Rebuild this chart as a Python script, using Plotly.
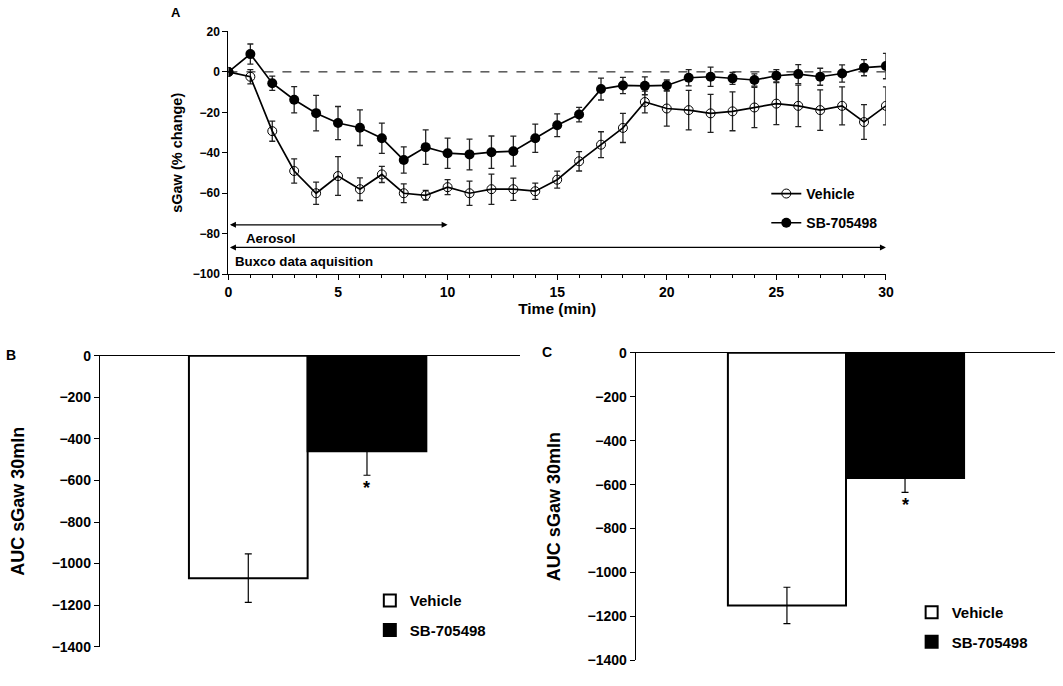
import plotly.graph_objects as go

# ---------------- Panel A data ----------------
time_min = list(range(0, 31))
vehicle_mean = [0, -2.4, -29.3, -49, -60, -51.5, -58, -50.7, -60, -61, -57,
                -60, -58, -58, -59, -53.3, -44.2, -36, -27.7, -14.9, -18.1,
                -18.9, -20.5, -19.5, -17.6, -15.7, -16.8, -18.9, -16.8, -24.8, -16.8]
vehicle_err = [0, 3.5, 5, 6, 5.5, 9.6, 5.6, 4, 4.6, 2.4, 3.7,
               6, 7.5, 5.5, 4, 4.2, 4.8, 6.4, 7.2, 5.4, 8.7,
               9.8, 9.4, 9.6, 10, 10.4, 10.3, 10, 9.4, 8.6, 9.4]
sb_mean = [0, 8.8, -5.6, -13.8, -20.4, -25.3, -27.6, -32.8, -43.6, -37.2, -40.2,
           -40.8, -39.7, -39.2, -32.8, -26.4, -21.1, -8.5, -6.7, -6.9, -6.7,
           -2.9, -2.4, -3.2, -4.0, -1.9, -1.1, -2.4, -0.8, 2.1, 2.9]
sb_err = [0, 5, 3.5, 6.5, 8.8, 8.2, 8.8, 7.5, 6.5, 8.5, 7.5,
          7.6, 8, 7.4, 7, 5.6, 3.6, 5.4, 4, 4.4, 2.7,
          4, 4.8, 3, 3, 3, 4.7, 4.2, 4.3, 4, 6.3]

# ---------------- Panel B / C data ----------------
groups = ["Vehicle", "SB-705498"]
b_auc = [-1070, -460]
b_err = [117, 115]
c_auc = [-1150, -570]
c_err = [83, 65]

font_family = "Liberation Sans, Arial, sans-serif"
def bf(size):
    return dict(family=font_family, size=size, color="black", weight="bold")

fig = go.Figure()

# Panel A traces
fig.add_trace(go.Scatter(
    x=time_min, y=vehicle_mean, name="Vehicle", mode="lines+markers",
    line=dict(color="black", width=1.7),
    marker=dict(symbol="circle-open", size=9, color="black", line=dict(width=1)),
    error_y=dict(type="data", array=vehicle_err, color="#222", thickness=1.3, width=3),
    xaxis="x", yaxis="y", legend="legend", legendgroup="a1"))
fig.add_trace(go.Scatter(
    x=time_min, y=sb_mean, name="SB-705498", mode="lines+markers",
    line=dict(color="black", width=1.7),
    marker=dict(symbol="circle", size=10, color="black"),
    error_y=dict(type="data", array=sb_err, color="#222", thickness=1.3, width=3),
    xaxis="x", yaxis="y", legend="legend", legendgroup="a2"))

# Panel B traces
fig.add_trace(go.Bar(
    x=[0], y=[b_auc[0]], name=groups[0], width=1,
    marker=dict(color="white", line=dict(color="black", width=2)),
    error_y=dict(type="data", array=[b_err[0]], color="black", thickness=1.2, width=3.5),
    xaxis="x2", yaxis="y2", legend="legend2", legendgroup="b1"))
fig.add_trace(go.Bar(
    x=[1], y=[b_auc[1]], name=groups[1], width=1,
    marker=dict(color="black", line=dict(color="black", width=2)),
    error_y=dict(type="data", array=[b_err[1]], color="black", thickness=1.2, width=3.5),
    xaxis="x2", yaxis="y2", legend="legend2", legendgroup="b2"))

# Panel C traces
fig.add_trace(go.Bar(
    x=[0], y=[c_auc[0]], name=groups[0], width=1,
    marker=dict(color="white", line=dict(color="black", width=2)),
    error_y=dict(type="data", array=[c_err[0]], color="black", thickness=1.2, width=3.5),
    xaxis="x3", yaxis="y3", legend="legend3", legendgroup="c1"))
fig.add_trace(go.Bar(
    x=[1], y=[c_auc[1]], name=groups[1], width=1,
    marker=dict(color="black", line=dict(color="black", width=2)),
    error_y=dict(type="data", array=[c_err[1]], color="black", thickness=1.2, width=3.5),
    xaxis="x3", yaxis="y3", legend="legend3", legendgroup="c2"))

W, H = 1063, 686
def px(xp): return xp / W
def py(yp): return 1 - yp / H

fig.update_layout(
    width=W, height=H, margin=dict(l=0, r=0, t=0, b=0),
    paper_bgcolor="white", plot_bgcolor="white",
    barmode="overlay", font=dict(family=font_family, color="black"),
    xaxis=dict(domain=[px(227), px(892)], range=[0, 30], anchor="y",
               tickvals=[0, 5, 10, 15, 20, 25, 30], ticks="outside", ticklen=5,
               tickcolor="black", showline=True, linecolor="black", linewidth=1.3,
               showgrid=False, zeroline=False, tickfont=bf(14),
               minor=dict(dtick=1, ticks="outside", ticklen=3, tickcolor="black"),
               title=dict(text="Time (min)", font=bf(15.5), standoff=4)),
    yaxis=dict(domain=[py(272.5), py(24)], range=[-100, 20], anchor="x",
               dtick=20, ticks="outside", ticklen=5, tickcolor="black",
               showline=True, linecolor="black", linewidth=1.3,
               showgrid=False, zeroline=False, tickfont=bf(12),
               title=dict(text="sGaw (% change)", font=bf(14.5), standoff=6)),
    xaxis2=dict(domain=[px(97), px(522)], range=[-1.25, 2.29], anchor="y2",
                side="top", showticklabels=False, ticks="", showline=True,
                linecolor="black", linewidth=1.3, showgrid=False, zeroline=False),
    yaxis2=dict(domain=[py(654), py(356)], range=[-1400, 0], anchor="x2",
                dtick=200, ticks="outside", ticklen=5, tickcolor="black",
                showline=True, linecolor="black", linewidth=1.3,
                showgrid=False, zeroline=False, tickfont=bf(14),
                title=dict(text="AUC sGaw 30mln", font=bf(18), standoff=22)),
    xaxis3=dict(domain=[px(639), 1.0], range=[-1.28, 2.27], anchor="y3",
                side="top", showticklabels=False, ticks="", showline=True,
                linecolor="black", linewidth=1.3, showgrid=False, zeroline=False),
    yaxis3=dict(domain=[py(668), py(353)], range=[-1400, 0], anchor="x3",
                dtick=200, ticks="outside", ticklen=5, tickcolor="black",
                showline=True, linecolor="black", linewidth=1.3,
                showgrid=False, zeroline=False, tickfont=bf(14),
                title=dict(text="AUC sGaw 30mln", font=bf(18), standoff=22)),
    legend=dict(x=px(771), y=py(174), xanchor="left", yanchor="top",
                bgcolor="rgba(0,0,0,0)", font=bf(14),
                tracegroupgap=8, itemwidth=30),
    legend2=dict(x=px(370), y=py(590), xanchor="left", yanchor="top",
                 bgcolor="rgba(0,0,0,0)", font=bf(15),
                 tracegroupgap=7, itemwidth=30),
    legend3=dict(x=px(918), y=py(602), xanchor="left", yanchor="top",
                 bgcolor="rgba(0,0,0,0)", font=bf(15),
                 tracegroupgap=7, itemwidth=30),
    showlegend=True,
)

# dashed zero line in panel A
fig.add_shape(type="line", xref="x", yref="y", x0=0, x1=30, y0=0, y1=0,
              line=dict(color="black", width=1, dash="dash"), layer="below")

anns = []
# double-headed arrows
anns.append(dict(xref="x", yref="y", axref="x", ayref="y", x=10, y=-75.6, ax=0, ay=-75.6,
                 text="", showarrow=True, arrowhead=2, startarrowhead=2,
                 arrowside="end+start", arrowwidth=1.2, arrowsize=1, arrowcolor="black"))
anns.append(dict(xref="x", yref="y", axref="x", ayref="y", x=30, y=-86.8, ax=0, ay=-86.8,
                 text="", showarrow=True, arrowhead=2, startarrowhead=2,
                 arrowside="end+start", arrowwidth=1.2, arrowsize=1, arrowcolor="black"))
anns.append(dict(xref="x", yref="y", x=0.72, y=-82.5, text="Aerosol", showarrow=False,
                 xanchor="left", yanchor="middle", font=bf(13.3)))
anns.append(dict(xref="x", yref="y", x=0.22, y=-93.9, text="Buxco data aquisition", showarrow=False,
                 xanchor="left", yanchor="middle", font=bf(13.3)))
# significance stars
anns.append(dict(xref="x2", yref="y2", x=1, y=b_auc[1] - b_err[1] - 60, text="*", showarrow=False,
                 font=bf(18)))
anns.append(dict(xref="x3", yref="y3", x=1, y=c_auc[1] - c_err[1] - 60, text="*", showarrow=False,
                 font=bf(18)))
# panel letters
anns.append(dict(xref="paper", yref="paper", x=px(167), y=py(5), text="A", showarrow=False,
                 xanchor="left", yanchor="middle", font=bf(13)))
anns.append(dict(xref="paper", yref="paper", x=px(0), y=py(355), text="B", showarrow=False,
                 xanchor="left", yanchor="middle", font=bf(14)))
anns.append(dict(xref="paper", yref="paper", x=px(542), y=py(352), text="C", showarrow=False,
                 xanchor="left", yanchor="middle", font=bf(14)))
fig.update_layout(annotations=anns)

fig.write_html("out.html", config={"displayModeBar": False},
               post_script="document.body.style.margin='0px';document.body.style.overflow='hidden';")
